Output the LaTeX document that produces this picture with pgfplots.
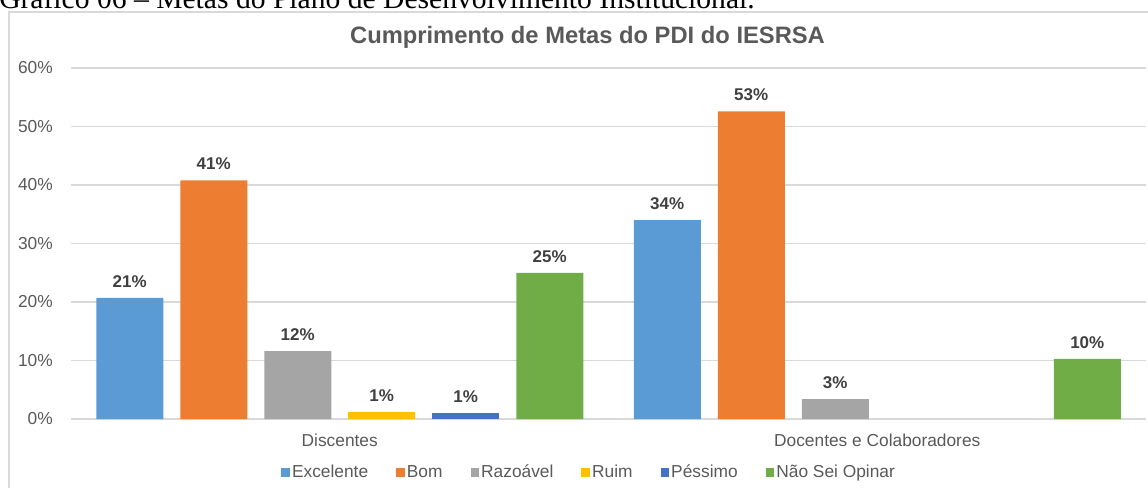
\documentclass[border=0pt]{standalone}
\usepackage{pgfplots}
\pgfplotsset{compat=1.18}
\usepackage{fontspec}
\setmainfont{Liberation Sans}
\newfontfamily\capfont{Liberation Serif}
\definecolor{cExc}{HTML}{5B9BD5}
\definecolor{cBom}{HTML}{ED7D31}
\definecolor{cRaz}{HTML}{A5A5A5}
\definecolor{cRui}{HTML}{FFC000}
\definecolor{cPes}{HTML}{4472C4}
\definecolor{cNao}{HTML}{70AD47}
\definecolor{txt}{HTML}{595959}
\definecolor{lbl}{HTML}{404040}
\definecolor{grd}{HTML}{D9D9D9}
\begin{document}
\begin{tikzpicture}[x=0.75pt,y=0.75pt]
\path[use as bounding box] (0,0) rectangle (1148,487);
\node[anchor=base west, inner sep=0pt, font=\capfont\fontsize{22.2}{26}\selectfont] at (-1,479) {Gráfico 06 – Metas do Plano de Desenvolvimento Institucional.};
\draw[grd, line width=1.1pt] (9,-20) -- (9,475) -- (1200,475);
\node[anchor=base, inner sep=0pt, font=\bfseries\fontsize{17.8}{21}\selectfont, text=txt] at (587.5,443.5) {Cumprimento de Metas do PDI do IESRSA};
\begin{axis}[
  at={(53.25pt,51pt)}, anchor=south west,
  scale only axis, width=806.25pt, height=263.25pt,
  ybar, bar width=50.25pt, ybar=12.75pt,
  ymin=0, ymax=60, xmin=-0.5, xmax=1.5,
  xtick={0,1}, xticklabels={Discentes, Docentes e Colaboradores},
  ytick={0,10,20,30,40,50,60},
  yticklabels={0\%,10\%,20\%,30\%,40\%,50\%,60\%},
  ymajorgrids, grid style={grd, line width=0.9pt},
  axis line style={draw=none}, major tick length=0pt,
  tick label style={font=\fontsize{13}{15}\selectfont, text=txt},
  yticklabel style={anchor=east, inner sep=0pt, xshift=-13.5pt},
  xticklabel style={anchor=north, inner sep=0pt, yshift=-11pt},
  nodes near coords={\pgfmathprintnumber[fixed,precision=0,assume math mode=true]{\pgfplotspointmeta}\%},
  nodes near coords style={font=\bfseries\fontsize{12.75}{15}\selectfont, text=lbl, inner sep=0pt, anchor=south, yshift=7.5pt},
  legend columns=6,
  legend style={at={(0.482,-0.152)}, anchor=center, draw=none, fill=none,
    font=\fontsize{13}{15}\selectfont, text=txt,
    nodes={inner sep=1.5pt},
    /tikz/every even column/.append style={column sep=19.5pt}},
  legend image code/.code={\fill[#1] (0pt,-3.3pt) rectangle (6.5pt,3.3pt);},
  clip=false,
]
\addplot[fill=cExc, draw=none] coordinates {(0,20.7) (1,34.0)};
\addplot[fill=cBom, draw=none] coordinates {(0,40.8) (1,52.6)};
\addplot[fill=cRaz, draw=none] coordinates {(0,11.6) (1,3.4)};
\addplot[fill=cRui, draw=none] coordinates {(0,1.2)};
\addplot[fill=cPes, draw=none] coordinates {(0,1.0)};
\addplot[fill=cNao, draw=none] coordinates {(0,25.0) (1,10.3)};
\legend{Excelente, Bom, Razoável, Ruim, Péssimo, Não Sei Opinar}
\end{axis}
\end{tikzpicture}
\end{document}
